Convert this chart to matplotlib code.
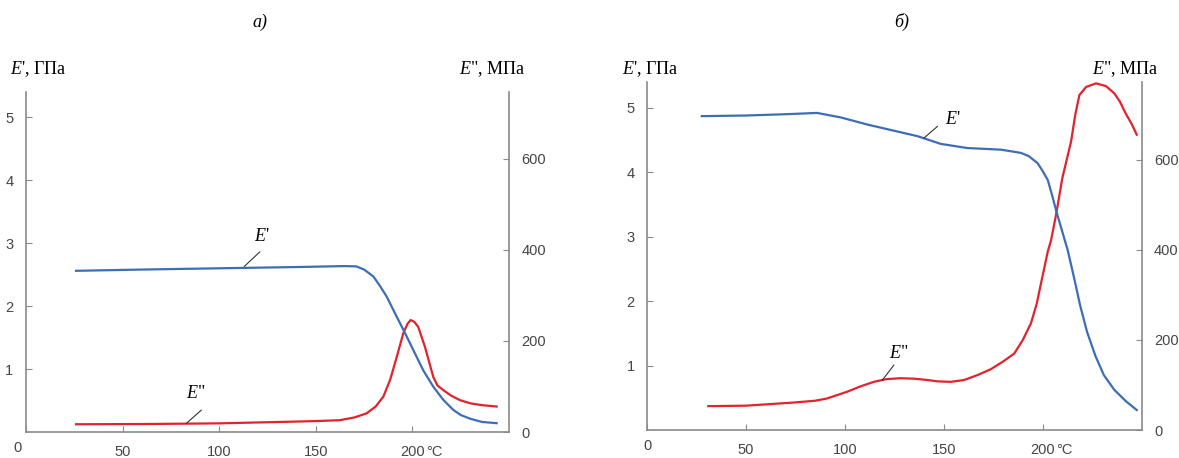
"""DMA curves: storage modulus E' and loss modulus E'' against temperature."""

import matplotlib
matplotlib.use("Agg")
import matplotlib.pyplot as plt

plt.rcParams["font.family"] = ["Liberation Sans", "DejaVu Sans"]
plt.rcParams["mathtext.fontset"] = "custom"
plt.rcParams["mathtext.it"] = "Liberation Serif:italic"
plt.rcParams["mathtext.rm"] = "Liberation Serif"

# panel a)
temp_a_e1 = [25.9, 60, 100, 140, 165, 171, 175, 179.8, 183, 186.7, 191.9, 196.2,
             200.5, 205.6, 210.8, 216, 221.2, 225, 230, 236, 243.6]
e1_a = [2.56, 2.58, 2.60, 2.62, 2.635, 2.63, 2.58, 2.47, 2.33, 2.15, 1.83, 1.57,
        1.30, 0.98, 0.72, 0.51, 0.35, 0.27, 0.21, 0.16, 0.14]
temp_a_e2 = [25.9, 60, 100, 136.6, 150, 162.5, 170, 176.3, 181, 185, 188.5, 191.9,
             195.3, 197.5, 199.1, 201, 203, 206.5, 210.8, 213, 216, 220, 224.6,
             230, 236, 243.6]
e2_a = [17, 17.5, 19, 22.6, 24, 26, 32, 41, 56, 78, 115, 165,
        217, 238, 246, 242, 231, 187, 121, 102, 92, 80, 70,
        63, 59, 56]

# panel б)
temp_b_e1 = [27.7, 50, 70, 86, 98, 111.4, 124, 136.7, 148.5, 162, 179, 189, 193,
             197.5, 200, 202.6, 205, 206.8, 209.5, 212.7, 216, 219, 222.5, 226.7,
             231, 236.2, 242, 247.6]
e1_b = [4.87, 4.88, 4.90, 4.92, 4.85, 4.74, 4.65, 4.56, 4.44, 4.375, 4.35, 4.30, 4.25,
        4.14, 4.02, 3.88, 3.62, 3.41, 3.125, 2.79, 2.35, 1.93, 1.52, 1.15,
        0.85, 0.625, 0.45, 0.31]
temp_b_e2 = [31, 50, 74.2, 85, 91, 101.2, 108, 114.7, 121, 128.2, 135, 141.8, 147,
             153.6, 160.3, 167.1, 173.8, 180, 185.7, 190, 194.1, 197, 199.2, 202.6,
             204.3, 206.8, 210, 214.4, 216.5, 218.6, 222, 227, 232, 236.2, 239,
             241.9, 245, 247.6]
e2_b = [53, 54, 61, 65, 70, 85, 97, 107, 113, 115, 114, 111, 108,
        107, 111, 122, 135, 152, 170, 200, 237, 280, 326, 396,
        422, 478, 560, 641, 700, 744, 762, 770, 764, 748, 730,
        704, 680, 656]

x_ticks = [0, 50, 100, 150, 200]
x_tick_labels = ["0", "50", "100", "150", "200"]
e1_ticks = [1, 2, 3, 4, 5]
e2_ticks = [0, 200, 400, 600]

BLUE = "#3d6db5"
RED = "#e2222c"
GREY = "#8a8a8a"
TEXT = "#454545"
SERIF = "Liberation Serif"
W, H = 1179, 458


def style_axes(ax, side):
    for name in ("top", "left", "right", "bottom"):
        ax.spines[name].set_visible(False)
    for name in side:
        ax.spines[name].set_visible(True)
        ax.spines[name].set_color(GREY)
        ax.spines[name].set_linewidth(1.2)
    ax.tick_params(direction="in", length=4, width=0.8, color=GREY,
                   labelcolor=TEXT, labelsize=10.5, pad=9)


def draw_panel(rect, title, title_x, e1_data, e2_data, e2_max, labels,
               label_xs, zero_shift):
    ax = fig.add_axes(rect)
    ax2 = ax.twinx()
    ax.set_zorder(ax2.get_zorder() + 1)
    ax.patch.set_visible(False)

    ax.plot(*e1_data, color=BLUE, lw=1.6, clip_on=False)
    ax2.plot(*e2_data, color=RED, lw=1.6, clip_on=False)

    ax.set_xlim(0, 250)
    ax.set_ylim(0, 5.4)
    ax2.set_ylim(0, e2_max)
    ax.set_xticks(x_ticks, [""] + x_tick_labels[1:])
    ax.set_yticks(e1_ticks)
    ax2.set_yticks(e2_ticks)
    style_axes(ax, ("left", "bottom"))
    style_axes(ax2, ("right",))
    ax2.tick_params(axis="x", bottom=False, labelbottom=False)

    # origin label and unit after the last tick
    ax.annotate(x_tick_labels[0], xy=(0, 0), xytext=(zero_shift, -6.5),
                textcoords="offset points", ha="center", va="top",
                fontsize=10.5, color=TEXT)
    ax.annotate("°C", xy=(200, 0), xytext=(10, -9), textcoords="offset points",
                ha="left", va="top", fontsize=10.5, color=TEXT)

    # curve labels with leader lines
    (e1_txt, e1_line), (e2_txt, e2_line) = labels
    ax.text(*e1_txt, r"$E$'", family=SERIF, fontsize=13, ha="center", va="center")
    ax.plot(*e1_line, color="#333333", lw=0.8)
    ax2.text(*e2_txt, r'$E$"', family=SERIF, fontsize=13, ha="center", va="center")
    ax2.plot(*e2_line, color="#333333", lw=0.8)

    fig.text(title_x / W, 1 - 22 / H, title, family=SERIF, style="italic",
             fontsize=13, ha="center", va="center")
    fig.text(label_xs[0] / W, 1 - 69 / H, r"$E$', ГПа", family=SERIF,
             fontsize=13, ha="left", va="center")
    fig.text(label_xs[1] / W, 1 - 69 / H, r'$E$", МПа', family=SERIF,
             fontsize=13, ha="left", va="center")
    return ax, ax2


fig = plt.figure(figsize=(W / 100, H / 100), dpi=100)

draw_panel([26 / W, 1 - 432 / H, (509 - 26) / W, 340 / H], "а)", 260,
           (temp_a_e1, e1_a), (temp_a_e2, e2_a), 747,
           (((122, 3.10), ([121, 113], [2.86, 2.63])),
            ((88, 85), ([90.7, 83], [48, 19]))),
           (10, 459), -6)

draw_panel([647 / W, 1 - 430 / H, (1141.5 - 647) / W, 348 / H], "б)", 902,
           (temp_b_e1, e1_b), (temp_b_e2, e2_b), 773,
           (((154.4, 4.82), ([146.8, 140], [4.71, 4.53])),
            ((127.4, 170), ([124.8, 119], [144, 111]))),
           (622, 1092), 0)

fig.savefig("out.png", dpi=100)
